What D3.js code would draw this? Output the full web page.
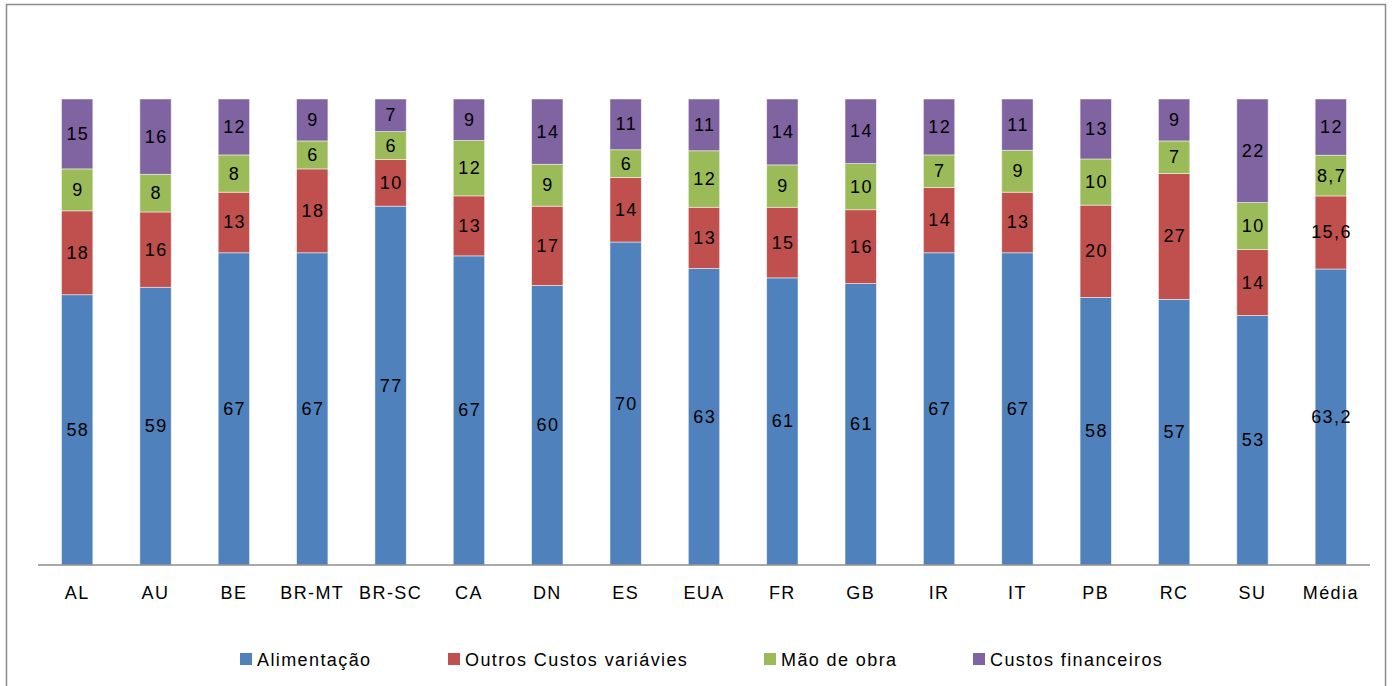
<!DOCTYPE html>
<html>
<head>
<meta charset="utf-8">
<script src="https://cdn.jsdelivr.net/npm/d3@7"></script>
<style>
  html, body { margin: 0; padding: 0; background: #fff; }
  svg text { font-family: "Liberation Sans", Arial, sans-serif; fill: #000; letter-spacing: 1.4px; }
</style>
</head>
<body>
<svg id="chart" width="1394" height="686"></svg>
<script>
// Cost composition by country (percent of total cost)
const categories = ["AL", "AU", "BE", "BR-MT", "BR-SC", "CA", "DN", "ES", "EUA", "FR", "GB", "IR", "IT", "PB", "RC", "SU", "Média"];
const seriesNames = ["Alimentação", "Outros Custos variávies", "Mão de obra", "Custos financeiros"];
const alimentacao = [58, 59, 67, 67, 77, 67, 60, 70, 63, 61, 61, 67, 67, 58, 57, 53, 63.2];
const outrosCustos = [18, 16, 13, 18, 10, 13, 17, 14, 13, 15, 16, 14, 13, 20, 27, 14, 15.6];
const maoDeObra = [9, 8, 8, 6, 6, 12, 9, 6, 12, 9, 10, 7, 9, 10, 7, 10, 8.7];
const custosFinanceiros = [15, 16, 12, 9, 7, 9, 14, 11, 11, 14, 14, 12, 11, 13, 9, 22, 12];
const colors = ["#4F81BD", "#C0504D", "#9BBB59", "#8064A2"];

const seriesValues = [alimentacao, outrosCustos, maoDeObra, custosFinanceiros];
const rows = categories.map((c, i) => {
  const r = { cat: c };
  seriesNames.forEach((s, j) => { r[s] = seriesValues[j][i]; });
  return r;
});

const svg = d3.select("#chart");

// outer frame
svg.append("rect")
  .attr("x", 6.5).attr("y", 4.5)
  .attr("width", 1379).attr("height", 690)
  .attr("fill", "none").attr("stroke", "#8c8c8c").attr("stroke-width", 1.5);

const plot = { left: 38, right: 1370, top: 99, bottom: 565 };

const x = d3.scaleBand()
  .domain(categories)
  .range([plot.left, plot.right])
  .paddingInner(0.6)
  .paddingOuter(0.3);

const y = d3.scaleLinear().domain([0, 1]).range([plot.bottom, plot.top]);

const stack = d3.stack().keys(seriesNames).offset(d3.stackOffsetExpand);
const stacked = stack(rows);

const locale = d3.formatLocale({ decimal: ",", thousands: ".", grouping: [3], currency: ["", ""] });
const fmt = v => Number.isInteger(v) ? String(v) : locale.format(".1f")(v);

const layers = svg.append("g").selectAll("g")
  .data(stacked)
  .join("g")
  .attr("fill", (d, i) => colors[i]);

layers.selectAll("rect")
  .data(d => d)
  .join("rect")
  .attr("x", d => x(d.data.cat))
  .attr("width", x.bandwidth())
  .attr("y", d => y(d[1]))
  .attr("height", d => y(d[0]) - y(d[1]))
  .attr("stroke", "rgba(255,255,255,0.6)")
  .attr("stroke-width", 0.8);

// value labels
stacked.forEach((layer, si) => {
  svg.append("g").selectAll("text")
    .data(layer)
    .join("text")
    .attr("x", d => x(d.data.cat) + x.bandwidth() / 2 + 0.7)
    .attr("y", d => (y(d[0]) + y(d[1])) / 2)
    .attr("text-anchor", "middle")
    .attr("dominant-baseline", "central")
    .attr("font-size", 18)
    .text(d => fmt(d.data[layer.key]));
});

// category axis
const xAxis = d3.axisBottom(x).tickSize(0).tickPadding(0);
const gx = svg.append("g")
  .attr("transform", `translate(0,${plot.bottom})`)
  .call(xAxis);
gx.select(".domain").attr("stroke", "#8c8c8c").attr("stroke-width", 1.5).attr("d", `M${plot.left},0H${plot.right}`);
gx.selectAll("text")
  .attr("y", 34)
  .attr("dy", null)
  .attr("font-size", 18)
  .attr("font-family", "Liberation Sans, Arial, sans-serif")
  .attr("fill", "#000");

// legend
const legendX = [240, 448, 764, 973];
const legend = svg.append("g").selectAll("g")
  .data(seriesNames)
  .join("g")
  .attr("transform", (d, i) => `translate(${legendX[i]},659)`);
legend.append("rect")
  .attr("x", 0).attr("y", -6)
  .attr("width", 12).attr("height", 12)
  .attr("fill", (d, i) => colors[i]);
legend.append("text")
  .attr("x", 17).attr("y", 6.5)
  .attr("font-size", 18)
  .text(d => d);
</script>
</body>
</html>
